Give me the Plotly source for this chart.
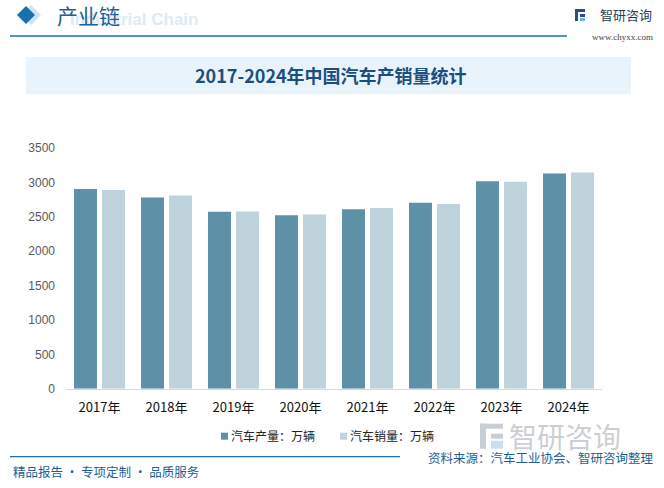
import plotly.graph_objects as go

W, H = 664, 488

years = ["2017年", "2018年", "2019年", "2020年", "2021年", "2022年", "2023年", "2024年"]
production = [2901.5, 2780.9, 2572.1, 2522.5, 2608.2, 2702.1, 3016.1, 3128.2]
sales = [2887.9, 2808.1, 2576.9, 2531.1, 2627.5, 2686.4, 3009.4, 3143.6]
y_ticks = [0, 500, 1000, 1500, 2000, 2500, 3000, 3500]
series_names = ["汽车产量：万辆", "汽车销量：万辆"]

DARK = "#5E91A8"
LIGHT = "#BFD3DC"
BLUE = "#1C5F96"
FONT = "Noto Sans CJK SC, Noto Sans, sans-serif"

# the photographed page comes out slightly squeezed vertically
# (seen ≈ 0.972 * y + 7), so reference pixel rows are mapped back through that
SQUEEZE, SHIFT = 0.972, 7.0


def px(x):
    return x / W


def py(y):
    return 1 - ((y - SHIFT) / SQUEEZE) / H


def box(x0, y0, x1, y1, color):
    return dict(type="rect", xref="paper", yref="paper", x0=px(x0), x1=px(x1), y0=py(y0), y1=py(y1),
                fillcolor=color, line=dict(width=0))


def diamond(cx, cy, r, color):
    path = (f"M {px(cx)} {py(cy - r)} L {px(cx + r)} {py(cy)} "
            f"L {px(cx)} {py(cy + r)} L {px(cx - r)} {py(cy)} Z")
    return dict(type="path", xref="paper", yref="paper", path=path, fillcolor=color, line=dict(width=0))


def hline(x0, x1, y, width):
    return dict(type="line", xref="paper", yref="paper", x0=px(x0), x1=px(x1), y0=py(y), y1=py(y),
                line=dict(color="#1A6FAF", width=width))


def label(text, x, y, anchor, size, color, family=FONT):
    return dict(text=text, xref="paper", yref="paper", x=px(x), y=py(y), xanchor=anchor, yanchor="middle",
                font=dict(family=family, size=size, color=color), showarrow=False)


fig = go.Figure()
fig.add_trace(go.Bar(x=years, y=production, name=series_names[0], marker=dict(color=DARK, line=dict(width=0))))
fig.add_trace(go.Bar(x=years, y=sales, name=series_names[1], marker=dict(color=LIGHT, line=dict(width=0))))

shapes = [
    diamond(31, 15, 10, "#CFE4F3"),
    diamond(26, 15, 9, "#1A6FAF"),
    hline(10, 567, 36, 1.5),
    box(26, 57, 631, 94, "#E8F3FB"),
    hline(10, 400, 457, 1.2),
    # small logo icon top right
    box(575, 9, 585, 12, "#2B4C8C"),
    box(575, 9, 578, 21, "#2B4C8C"),
    box(580, 14, 585, 17, "#2B4C8C"),
    box(580, 18, 585, 21, "#6FB7E6"),
    # big grey logo icon bottom right
    box(480, 424, 503, 429, "#C9CED6"),
    box(480, 424, 486, 449, "#C9CED6"),
    box(491, 434, 503, 439, "#C9CED6"),
    box(491, 441, 503, 449, "#C7DFF0"),
    # legend keys
    box(221, 433, 228, 440, DARK),
    box(340, 433, 347, 440, LIGHT),
]

annotations = [
    label("<b>Industrial Chain</b>", 68, 20, "left", 17, "#DCEBF6", "Liberation Sans, Arial"),
    label("产业链", 55, 15, "left", 21, BLUE),
    label("智研咨询", 654, 15, "right", 13, "#2B3A55"),
    label("www.chyxx.com", 655, 37, "right", 9, "#444444", "Liberation Serif, serif"),
    label("<b>2017-2024年中国汽车产销量统计</b>", 331, 75, "center", 18, "#1B4F80"),
    label("智研咨询", 507, 436, "left", 28, "rgba(160,165,172,0.55)"),
    label(series_names[0], 229, 436, "left", 12, "#222222"),
    label(series_names[1], 348, 436, "left", 12, "#222222"),
    label("资料来源：汽车工业协会、智研咨询整理", 656, 458, "right", 12.5, BLUE),
    label("精品报告 · 专项定制 · 品质服务", 11, 472, "left", 12.5, BLUE),
]

fig.update_layout(
    width=W,
    height=H,
    margin=dict(l=0, r=0, t=0, b=0),
    paper_bgcolor="white",
    plot_bgcolor="white",
    font=dict(family=FONT),
    barmode="group",
    bargap=0.164,
    bargroupgap=0.18,
    showlegend=False,
    shapes=shapes,
    annotations=annotations,
)
fig.update_xaxes(
    domain=[px(66), px(602)],
    showline=True, linecolor="#D9D9D9", linewidth=1,
    showgrid=False, ticks="",
    tickfont=dict(family=FONT, size=13, color="#111111"),
    ticklabelstandoff=7,
)
fig.update_yaxes(
    domain=[py(389), py(148)],
    range=[0, 3500], tickvals=y_ticks,
    showgrid=False, zeroline=False, showline=False,
    tickfont=dict(family="Liberation Sans, Arial", size=12, color="#595959"),
    ticklabelstandoff=10,
)

# drop the page's default body margin so the 664x488 figure fills the window exactly
fig.write_html(
    "out.html",
    config={"displayModeBar": False},
    post_script="document.body.style.margin = '0';",
)
